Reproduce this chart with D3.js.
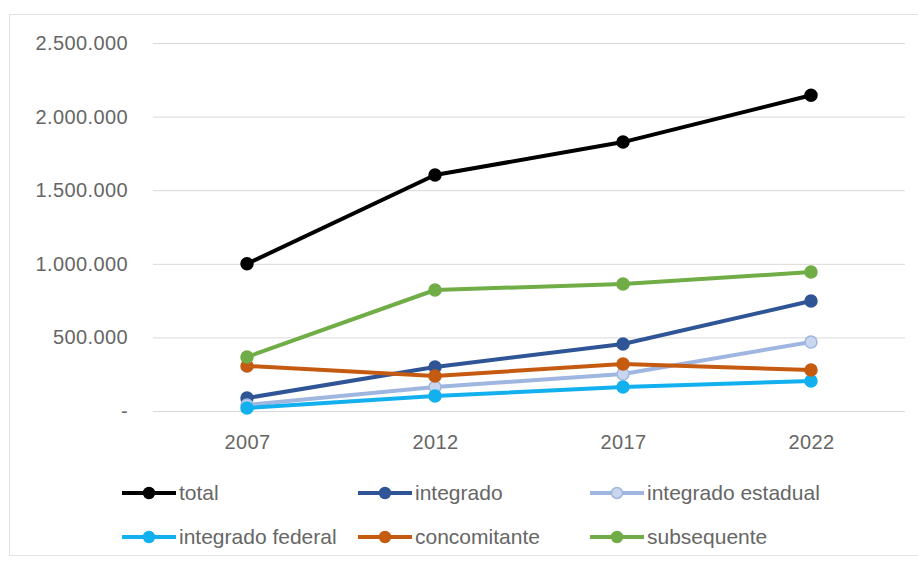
<!DOCTYPE html>
<html>
<head>
<meta charset="utf-8">
<script src="https://cdn.jsdelivr.net/npm/d3@7"></script>
<style>
  body { margin: 0; background: #fff; }
  svg { display: block; font-family: "Liberation Sans", Arial, sans-serif; }
</style>
</head>
<body>
<svg width="918" height="563"></svg>
<script>
// data
var years = ['2007', '2012', '2017', '2022'];
var seriesNames = ['total', 'integrado', 'integrado estadual', 'integrado federal', 'concomitante', 'subsequente'];
var total = [1000000, 1603000, 1827000, 2145000];
var integrado = [88000, 299000, 455000, 747000];
var integradoEstadual = [41000, 163000, 251000, 469000];
var integradoFederal = [20000, 102000, 163000, 204000];
var concomitante = [306000, 238000, 319000, 279000];
var subsequente = [367000, 822000, 863000, 944000];
var yTicks = [0, 500000, 1000000, 1500000, 2000000, 2500000];

var colors = ['#000000', '#2f5597', '#9fb6e0', '#12b0ee', '#c55a11', '#70ad47'];
var values = [total, integrado, integradoEstadual, integradoFederal, concomitante, subsequente];

var svg = d3.select('svg');

// outer chart frame
svg.append('rect')
  .attr('x', 9.5).attr('y', 14.5)
  .attr('width', 920).attr('height', 541)
  .attr('fill', 'none')
  .attr('stroke', '#e3e3e3');

var x = d3.scalePoint().domain(years).range([153, 905]).padding(0.5);
var y = d3.scaleLinear().domain([0, 2500000]).range([411, 43]);

var fmt = function(v) {
  if (v === 0) return '-';
  return d3.format(',')(v).replace(/,/g, '.');
};

// gridlines + y labels
var yAxis = svg.append('g')
  .attr('transform', 'translate(153,0)')
  .call(d3.axisLeft(y).tickValues(yTicks).tickSize(-752).tickFormat(fmt));
yAxis.select('.domain').remove();
yAxis.selectAll('.tick line').attr('stroke', '#d9d9d9');
yAxis.selectAll('.tick text')
  .attr('fill', '#666')
  .style('font-size', '20px')
  .style('letter-spacing', '0.4px')
  .attr('x', -25);

// x labels
var xAxis = svg.append('g')
  .attr('transform', 'translate(0,411)')
  .call(d3.axisBottom(x).tickSize(0).tickPadding(24));
xAxis.select('.domain').remove();
xAxis.selectAll('.tick text')
  .attr('fill', '#666')
  .style('font-size', '20px')
  .style('letter-spacing', '0.4px');

var line = d3.line()
  .x(function(d, i) { return x(years[i]); })
  .y(function(d) { return y(d); });

values.forEach(function(vals, k) {
  var g = svg.append('g');
  g.append('path')
    .attr('d', line(vals))
    .attr('fill', 'none')
    .attr('stroke', colors[k])
    .attr('stroke-width', 4)
    .attr('stroke-linejoin', 'round');
  g.selectAll('circle')
    .data(vals)
    .enter()
    .append('circle')
    .attr('cx', function(d, i) { return x(years[i]); })
    .attr('cy', function(d) { return y(d); })
    .attr('r', 6)
    .attr('fill', k === 2 ? '#c9d6ee' : colors[k])
    .attr('stroke', colors[k])
    .attr('stroke-width', 1.5);
});

// legend
var legendX = [122, 358, 590];
var legendY = [493, 537];
seriesNames.forEach(function(name, k) {
  var lx = legendX[k % 3];
  var ly = legendY[Math.floor(k / 3)];
  var g = svg.append('g').attr('transform', 'translate(' + lx + ',' + ly + ')');
  g.append('line')
    .attr('x1', 0).attr('x2', 54)
    .attr('stroke', colors[k])
    .attr('stroke-width', 4);
  g.append('circle')
    .attr('cx', 27).attr('r', 5.5)
    .attr('fill', k === 2 ? '#c9d6ee' : colors[k])
    .attr('stroke', colors[k])
    .attr('stroke-width', 1.5);
  g.append('text')
    .attr('x', 57)
    .attr('dy', '0.35em')
    .attr('fill', '#666')
    .style('font-size', '21px')
    .text(name);
});
</script>
</body>
</html>
